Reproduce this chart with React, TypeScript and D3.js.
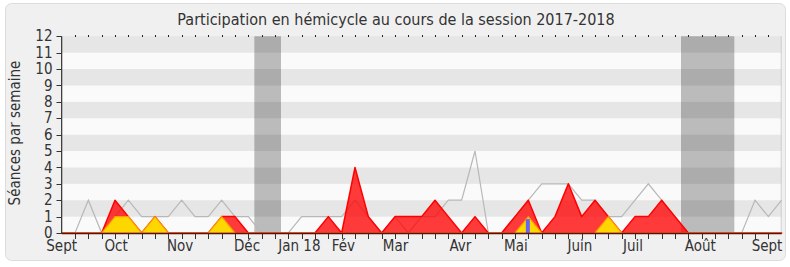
import React from "react";
import * as d3 from "d3";

// Weekly values, week index 0..54 (Sept 2017 -> Sept 2018)
const presence = [0,0,0,0,2,1,0,1,0,0,0,0,1,1,0,0,0,0,0,0,1,0,4,1,0,1,1,1,2,1,0,1,0,0,1,2,0,1,3,1,2,1,0,1,1,2,1,0,0,0,0,0,0,0,0];
const interventions = [0,0,0,0,1,1,0,1,0,0,0,0,1,0,0,0,0,0,0,0,0,0,0,0,0,0,0,0,0,0,0,0,0,0,0,1,0,0,0,0,0,1,0,0,0,0,0,0,0,0,0,0,0,0,0];
const questions = [0,0,0,0,0,0,0,0,0,0,0,0,0,0,0,0,0,0,0,0,0,0,0,0,0,0,0,0,0,0,0,0,0,0,0,1,0,0,0,0,0,0,0,0,0,0,0,0,0,0,0,0,0,0,0];
const median = [0,0,2,0,1,2,1,1,1,2,1,1,2,1,1,0,0,0,1,1,1,1,2,1,0,1,0,1,1,2,2,5,0,0,1,2,3,3,3,2,2,1,1,2,3,2,1,0,0,0,0,0,2,1,2];
const vacationStarts = [14.45, 46.45];
const vacationEnds = [16.45, 50.45];
const monthLabels = ["Sept","Oct","Nov","Déc","Jan 18","Fév","Mar","Avr","Mai","Juin","Juil","Août","Sept"];
const monthPos = [0, 4.08, 8.88, 13.9, 17.83, 21.13, 25.04, 29.9, 34.07, 38.87, 42.85, 47.9, 52.9];
const yTicks = [0,1,2,3,4,5,6,7,8,9,10,11,12];
const title = "Participation en hémicycle au cours de la session 2017-2018";
const yTitle = "Séances par semaine";

const W = 790, H = 267;
const FONT = "'DejaVu Sans Condensed', 'DejaVu Sans', sans-serif";

export default function App() {
  const nWeeks = presence.length - 1;
  const x = d3.scaleLinear().domain([0, nWeeks]).range([61.67, 781.67]);
  const y = d3.scaleLinear().domain([0, 12]).range([233, 36.2]);
  const idx = d3.range(presence.length);

  const area = (vals: number[]) =>
    d3.area<number>().x((i) => x(i)).y0(y(0)).y1((i) => y(vals[i]))(idx) || "";
  const line = (vals: number[]) =>
    d3.line<number>().x((i) => x(i)).y((i) => y(vals[i]))(idx) || "";

  const stripes = d3.range(12);
  const weekTicks = d3.range(1, nWeeks);

  return (
    <svg width={W} height={H} style={{ position: "absolute", left: 0, top: 0 }}>
      <rect x={5.5} y={3.5} width={780} height={257} rx={6} fill="#F0F0F0" stroke="#DCDCDC" />
      <text x={396} y={25} textAnchor="middle" fontFamily={FONT} fontSize={16} fill="#333">{title}</text>

      {stripes.map((s) => (
        <rect key={s} x={x(0)} y={y(s + 1)} width={x(nWeeks) - x(0)} height={y(s) - y(s + 1)}
          fill={s % 2 === 1 ? "#E6E6E6" : "#FAFAFA"} />
      ))}
      {vacationStarts.map((v, k) => (
        <rect key={k} x={x(v)} y={y(12)} width={x(vacationEnds[k]) - x(v)} height={y(0) - y(12)}
          fill="rgba(0,0,0,0.25)" />
      ))}
      <line x1={x(nWeeks) - 0.5} x2={x(nWeeks) - 0.5} y1={y(12)} y2={y(0)} stroke="#CFCFCF" />

      <path d={line(median)} fill="none" stroke="#B8B8B8" strokeWidth={1.2} />
      <path d={area(presence)} fill="rgba(255,0,0,0.77)" stroke="#FF0000" strokeWidth={1.5} strokeLinejoin="round" />
      <path d={area(interventions)} fill="#FFD700" stroke="#FF9A00" strokeWidth={1.2} />
      {idx.filter((i) => questions[i] > 0).map((i) => (
        <rect key={i} x={x(i) - 2.5} y={y(questions[i]) + 2.5} width={4} height={y(0) - y(questions[i]) - 2.5} fill="#6666EE" />
      ))}

      {/* axes */}
      <line x1={x(0)} x2={x(nWeeks)} y1={233.5} y2={233.5} stroke="#5A1010" strokeWidth={1.5} />
      <line x1={61.67} x2={61.67} y1={y(12)} y2={233.5} stroke="#333" strokeWidth={1.2} />
      {weekTicks.map((i) => (
        <g key={i}>
          <line x1={Math.round(x(i)) + 0.5} x2={Math.round(x(i)) + 0.5} y1={234} y2={239} stroke="#333" />
          <line x1={Math.round(x(i)) + 0.5} x2={Math.round(x(i)) + 0.5} y1={35} y2={37} stroke="#222" />
        </g>
      ))}
      {yTicks.map((t) => (
        <g key={t}>
          <line x1={56.5} x2={61.67} y1={Math.round(y(t)) + 0.5} y2={Math.round(y(t)) + 0.5} stroke="#333" />
          <text x={52.5} y={y(t) + 5.2} textAnchor="end" fontFamily={FONT} fontSize={15} fill="#333">{t}</text>
        </g>
      ))}
      {monthLabels.map((m, k) => (
        <text key={k} x={x(monthPos[k])} y={251} textAnchor="middle" fontFamily={FONT} fontSize={15} fill="#333">{m}</text>
      ))}
      <text transform={`translate(20,133) rotate(-90)`} textAnchor="middle" fontFamily={FONT} fontSize={15} fill="#333">{yTitle}</text>
    </svg>
  );
}
